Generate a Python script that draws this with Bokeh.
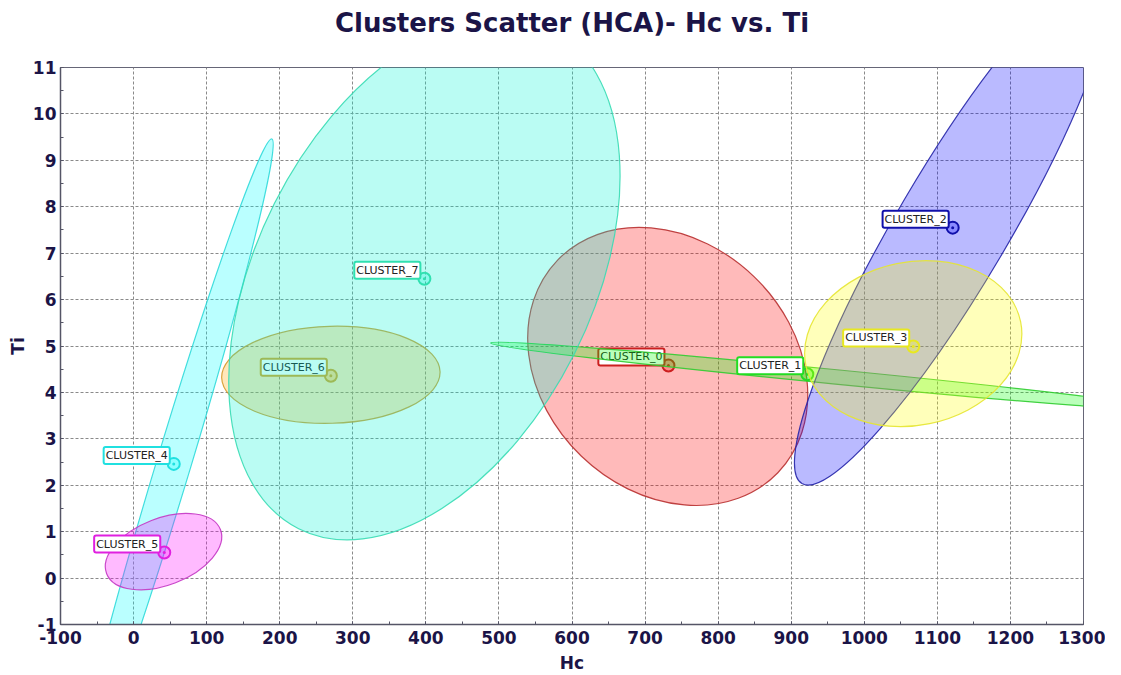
from bokeh.plotting import figure
from bokeh.models import Range1d, SingleIntervalTicker, Title
from bokeh.core.properties import value
from bokeh.embed import file_html
from bokeh.resources import INLINE
import math

# ---- data -------------------------------------------------------------
clusters = ["CLUSTER_0", "CLUSTER_1", "CLUSTER_2", "CLUSTER_3",
            "CLUSTER_4", "CLUSTER_5", "CLUSTER_6", "CLUSTER_7"]
center_hc = [732, 922, 1121, 1067, 55, 42, 270, 398]
center_ti = [4.58, 4.39, 7.55, 4.99, 2.46, 0.55, 4.36, 6.45]

# ellipse (spread) of each cluster
ell_hc = [731, 958, 1121, 1067, 55, 41, 270, 398]
ell_ti = [4.56, 4.34, 7.55, 5.05, 2.46, 0.57, 4.38, 6.45]
ell_width_hc = [419, 943, 813, 300, 929, 167, 299, 766]
ell_height_ti = [5.37, 0.31, 2.41, 3.52, 0.74, 1.44, 2.09, 7.23]
ell_angle_deg = [-44.0, -5.6, 59.5, 11.6, 73.2, 21.2, 1.6, 63.3]

fill_colors = ["#ff0000", "#00ff00", "#0000ff", "#ffff00",
               "#00ffff", "#ff00ff", "#ffa500", "#00f5d4"]
line_colors = ["#b83030", "#30cc30", "#2424a8", "#e6e630",
               "#30dada", "#c436c4", "#d49a2a", "#38dcb4"]
mark_colors = ["#cc1f1f", "#22dd22", "#1010aa", "#e8e820",
               "#20e0e0", "#e020e0", "#d8a428", "#30e0b0"]

x_ticks = list(range(-100, 1301, 100))
y_ticks = list(range(-1, 12))

title_text = "Clusters Scatter (HCA)- Hc vs. Ti"
x_label = "Hc"
y_label = "Ti"

# ---- figure -----------------------------------------------------------
navy = "#1b1447"
p = figure(frame_width=1023, frame_height=557,
           x_range=Range1d(-100, 1300), y_range=Range1d(-1, 11),
           output_backend="svg", toolbar_location=None,
           title=title_text,
           min_border_left=60, min_border_right=22,
           min_border_top=60, min_border_bottom=43)
p.background_fill_color = "white"
p.border_fill_color = "white"
p.outline_line_color = "#666677"
p.outline_line_width = 1

p.title.text_font = "DejaVu Sans"
p.title.text_font_style = "bold"
p.title.text_font_size = "26px"
p.title.text_color = navy
p.title.align = "center"
p.title.standoff = 10

# blank spacer between the title and the plot frame
p.add_layout(Title(text=" ", text_font_size="21px", standoff=0), "above")

p.xaxis.ticker = SingleIntervalTicker(interval=100, num_minor_ticks=2)
p.yaxis.ticker = SingleIntervalTicker(interval=1, num_minor_ticks=2)
p.xaxis.major_label_overrides = {t: str(t) for t in x_ticks}
p.yaxis.major_label_overrides = {t: str(t) for t in y_ticks}
p.xaxis.axis_label = x_label
p.yaxis.axis_label = y_label
for ax in (p.xaxis, p.yaxis):
    ax.axis_line_color = "#555566"
    ax.axis_line_width = 1.5
    ax.major_tick_in = 3
    ax.major_tick_out = 0
    ax.minor_tick_in = 3
    ax.minor_tick_out = 0
    ax.major_tick_line_color = "#555566"
    ax.minor_tick_line_color = "#555566"
    ax.major_label_text_font = "DejaVu Sans"
    ax.major_label_text_font_style = "bold"
    ax.major_label_text_font_size = "17px"
    ax.major_label_text_color = navy
    ax.axis_label_text_font = "DejaVu Sans"
    ax.axis_label_text_font_style = "bold"
    ax.axis_label_text_font_size = "17px"
    ax.axis_label_text_color = navy
p.xaxis.major_label_standoff = 6
p.xaxis.axis_label_standoff = 6
p.yaxis.major_label_standoff = 4
p.yaxis.axis_label_standoff = 2

p.grid.grid_line_color = "#8a8a8a"
p.grid.grid_line_dash = "3 2"
p.grid.grid_line_width = 1

for i, name in enumerate(clusters):
    p.ellipse(x=[ell_hc[i]], y=[ell_ti[i]],
              width=[ell_width_hc[i]], height=[ell_height_ti[i]],
              angle=[math.radians(ell_angle_deg[i])],
              fill_color=fill_colors[i], fill_alpha=0.27,
              line_color=line_colors[i], line_width=1.2, line_alpha=0.9)
    p.scatter(x=[center_hc[i]], y=[center_ti[i]], marker="circle_dot", size=12,
              line_color=mark_colors[i], line_width=2,
              fill_color=fill_colors[i], fill_alpha=0.25)
    p.text(x=[center_hc[i]], y=[center_ti[i]], text=[name],
           text_font=value("DejaVu Sans"), text_font_size="11px",
           text_color="#222222", text_align="right", text_baseline="bottom",
           x_offset=-4, y_offset=0,
           background_fill_color="white", background_fill_alpha=1.0,
           border_line_color=mark_colors[i], border_line_width=2,
           padding=2, border_radius=2)

open("out.html", "w").write(file_html(p, INLINE))
